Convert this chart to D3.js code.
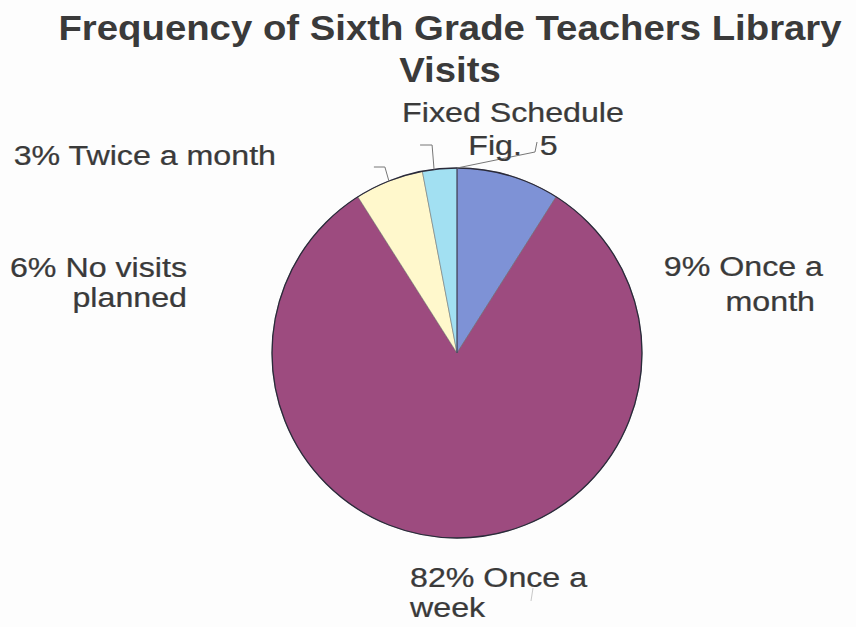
<!DOCTYPE html>
<html>
<head>
<meta charset="utf-8">
<script src="https://cdn.jsdelivr.net/npm/d3@7"></script>
<style>
  html, body { margin: 0; padding: 0; background: #fdfdfd; }
  svg { display: block; }
</style>
</head>
<body>
<svg id="chart" width="856" height="627"></svg>
<script>
// ---- data ----
const categories = ["Once a month", "Once a week", "No visits planned", "Twice a month"];
const values = [9, 82, 6, 3];
const colors = ["#7e92d6", "#9d4b7f", "#fff8cc", "#a2e0f2"];
const labelLines = [
  ["9% Once a", "month"],
  ["82% Once a", "week"],
  ["6% No visits", "planned"],
  ["3% Twice a month"]
];
const titleLines = ["Frequency of Sixth Grade Teachers Library", "Visits"];
const noteLines = ["Fixed Schedule", "Fig.\u00a0\u00a05"];

// ---- layout ----
const svg = d3.select("#chart");
const cx = 457, cy = 353, r = 185;
const textColor = "#3a3a3a";

// title
const title = svg.append("g").attr("transform", "translate(450,0) scale(1.08,1)");
title.selectAll("text").data(titleLines).join("text")
  .attr("x", 0)
  .attr("y", (d, i) => 40 + i * 42)
  .attr("text-anchor", "middle")
  .attr("font-family", "Liberation Sans, Arial, sans-serif")
  .attr("font-weight", "bold")
  .attr("font-size", 35.5)
  .attr("fill", textColor)
  .text(d => d);

// pie
const pie = d3.pie().sort(null).value(d => d)(values);
const arc = d3.arc().innerRadius(0).outerRadius(r);
const g = svg.append("g").attr("transform", `translate(${cx},${cy})`);
g.selectAll("path.slice").data(pie).join("path")
  .attr("class", "slice")
  .attr("d", arc)
  .attr("fill", (d, i) => colors[i])
  .attr("stroke", "#666")
  .attr("stroke-width", 0.5);
g.append("circle").attr("r", r).attr("fill", "none")
  .attr("stroke", "#2a2a3a").attr("stroke-width", 1.3);
// dark divider at top
g.append("line").attr("x1", 0).attr("y1", 0).attr("x2", 0).attr("y2", -r)
  .attr("stroke", "#3a3a5a").attr("stroke-width", 1);

// leader lines
function edgePoint(angle) {
  return [cx + r * Math.sin(angle), cy - r * Math.cos(angle)];
}
const mid = d => (d.startAngle + d.endAngle) / 2;
const leaders = [
  (() => { const p = edgePoint(mid(pie[3]) - 0.03); return [p, [p[0] - 2, 145], [p[0] - 14, 145]]; })(),
  (() => { const p = edgePoint(mid(pie[2])); return [p, [p[0] - 4, 167], [p[0] - 15, 167]]; })(),
  (() => { const p = edgePoint(0); return [p, [535, 152], [537, 142]]; })()
];
svg.selectAll("path.leader").data(leaders).join("path")
  .attr("class", "leader")
  .attr("d", d3.line())
  .attr("fill", "none")
  .attr("stroke", "#777")
  .attr("stroke-width", 1);
svg.append("path").attr("d", d3.line()([[533, 588], [531, 601]]))
  .attr("stroke", "#c8c8c8").attr("stroke-width", 1).attr("fill", "none");

// labels
const labelPos = [
  { x: 823, y: 276, anchor: "end", dx: [0, -8], lh: 35 },
  { x: 410, y: 587, anchor: "start", dx: [0, 0], lh: 30 },
  { x: 187, y: 277, anchor: "end", dx: [0, 0], lh: 30 },
  { x: 276, y: 165, anchor: "end", dx: [0], lh: 30 }
];
const sx = 1.15;
const fs = 28;
labelLines.forEach((lines, i) => {
  const p = labelPos[i];
  const lg = svg.append("g").attr("transform", `translate(${p.x},${p.y}) scale(${sx},1)`);
  lg.selectAll("text").data(lines).join("text")
    .attr("x", (d, j) => p.dx[j] / sx)
    .attr("y", (d, j) => j * p.lh)
    .attr("text-anchor", p.anchor)
    .attr("font-family", "Liberation Sans, Arial, sans-serif")
    .attr("font-size", fs)
    .attr("fill", textColor)
    .attr("stroke", textColor)
    .attr("stroke-width", 0.25)
    .text(d => d);
});

// note text
const ng = svg.append("g").attr("transform", `translate(513,122) scale(${sx},1)`);
ng.selectAll("text").data(noteLines).join("text")
  .attr("x", 0)
  .attr("y", (d, j) => j * 33)
  .attr("text-anchor", "middle")
  .attr("font-family", "Liberation Sans, Arial, sans-serif")
  .attr("font-size", fs)
  .attr("fill", textColor)
  .attr("stroke", textColor)
  .attr("stroke-width", 0.25)
  .text(d => d);
</script>
</body>
</html>
